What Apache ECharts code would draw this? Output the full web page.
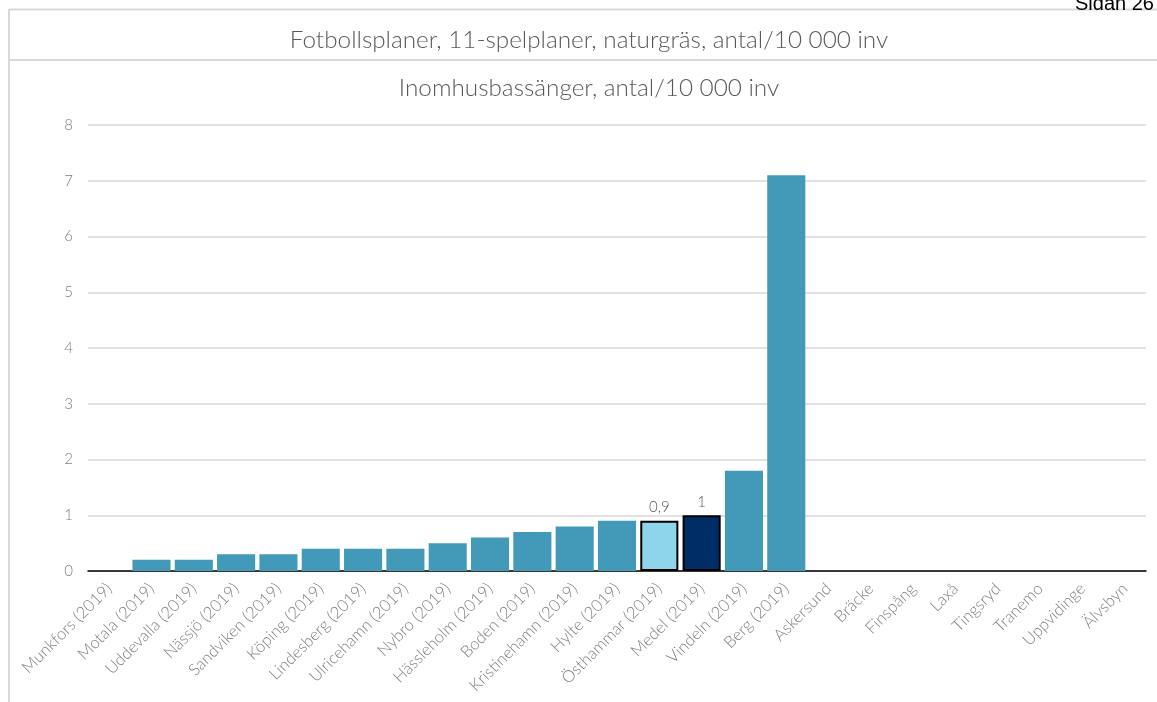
<!DOCTYPE html>
<html><head><meta charset="utf-8">
<script src="https://cdn.jsdelivr.net/npm/echarts@6/dist/echarts.min.js"></script>
<style>html,body{margin:0;padding:0;background:#fff}#c{width:1157px;height:702px}</style>
</head><body><div id="c"></div>
<script>
const categories = ["Munkfors (2019)","Motala (2019)","Uddevalla (2019)","Nässjö (2019)","Sandviken (2019)","Köping (2019)","Lindesberg (2019)","Ulricehamn (2019)","Nybro (2019)","Hässleholm (2019)","Boden (2019)","Kristinehamn (2019)","Hylte (2019)","Östhammar (2019)","Medel (2019)","Vindeln (2019)","Berg (2019)","Askersund","Bräcke","Finspång","Laxå","Tingsryd","Tranemo","Uppvidinge","Älvsbyn"];
const values = [0,0.2,0.2,0.3,0.3,0.4,0.4,0.4,0.5,0.6,0.7,0.8,0.9,0.9,1.0,1.8,7.1,null,null,null,null,null,null,null,null];
const yTicks = [0,1,2,3,4,5,6,7,8];
const chartTitle = "Fotbollsplaner, 11-spelplaner, naturgräs, antal/10 000 inv";
const subTitle = "Inomhusbassänger, antal/10 000 inv";

const colors = {"Östhammar (2019)":"#8ed4ea","Medel (2019)":"#002d66"};
const chart = echarts.init(document.getElementById('c'));
chart.setOption({
  animation:false,
  graphic:[
    {type:'line',shape:{x1:9,y1:9.5,x2:1157,y2:9.5},style:{stroke:'#d9d9d9',lineWidth:2}},
    {type:'line',shape:{x1:9,y1:60,x2:1157,y2:60},style:{stroke:'#d9d9d9',lineWidth:2}},
    {type:'line',shape:{x1:9,y1:9,x2:9,y2:702},style:{stroke:'#d9d9d9',lineWidth:2}},
    {type:'text',x:589,y:40,style:{text:chartTitle,textAlign:'center',textVerticalAlign:'middle',font:'300 24.3px Lato',fill:'#595959'}},
    {type:'text',x:589,y:88,style:{text:subTitle,textAlign:'center',textVerticalAlign:'middle',font:'300 24.3px Lato',fill:'#595959'}},
    {type:'text',x:1075,y:-6,style:{text:'Sidan 26',font:'20px "Liberation Sans", Arial',fill:'#000'}}
  ],
  grid:{left:88,right:11,top:125,bottom:131,containLabel:false},
  xAxis:{type:'category',data:categories,
    axisLine:{lineStyle:{color:'#000',width:1.5}},axisTick:{show:false},
    axisLabel:{rotate:45,interval:0,fontFamily:'Lato',fontWeight:300,fontSize:16.5,color:'#7f7f7f',margin:15}},
  yAxis:{type:'value',min:0,max:8,interval:1,
    axisLine:{show:false},axisTick:{show:false},
    splitLine:{lineStyle:{color:'#d9d9d9',width:1.5}},
    axisLabel:{fontFamily:'Lato',fontWeight:300,fontSize:15,color:'#7f7f7f',margin:15,formatter:v=>yTicks.includes(v)?String(v):''}},
  series:[{type:'bar',barCategoryGap:'10%',
    data:values.map((v,i)=>{
      const c=categories[i];
      if(colors[c]) return {value:v,itemStyle:{color:colors[c],borderColor:'#000',borderWidth:2},
        label:{show:true,position:'top',distance:6,fontFamily:'Lato',fontWeight:300,fontSize:15,color:'#595959',formatter:p=>String(p.value).replace('.',',')}};
      return {value:v,itemStyle:{color:'#4399b8'}};
    })
  }]
});
</script></body></html>
